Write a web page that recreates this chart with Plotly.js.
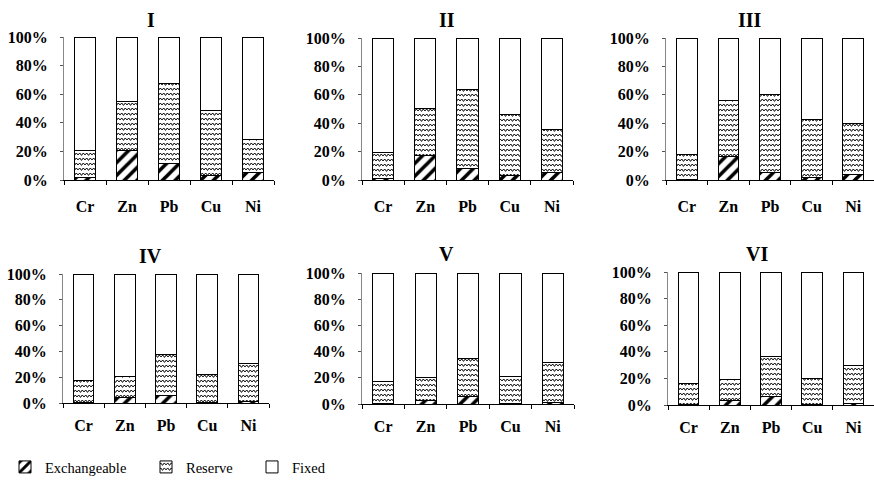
<!DOCTYPE html>
<html>
<head>
<meta charset="utf-8">
<script src="https://cdn.plot.ly/plotly-3.0.1.min.js"></script>
<style>html,body{margin:0;padding:0;background:#fff;font-family:"Liberation Serif",serif;}#chart{width:874px;height:486px;}</style>
</head>
<body>
<div id="chart"></div>
<script>
// ---- data (percent of total) ----
var metals = ["Cr", "Zn", "Pb", "Cu", "Ni"];
var panelNames = ["I", "II", "III", "IV", "V", "VI"];
var seriesNames = ["Exchangeable", "Reserve", "Fixed"];

var exchI   = [1.6, 20.3, 11.2, 3.0, 5.4];
var reserveI = [19.0, 34.8, 56.6, 45.8, 23.1];
var fixedI  = [79.4, 44.9, 32.2, 51.2, 71.5];

var exchII   = [1.0, 17.6, 7.8, 3.0, 5.2];
var reserveII = [18.5, 32.8, 55.7, 43.1, 30.3];
var fixedII  = [80.5, 49.6, 36.5, 53.9, 64.5];

var exchIII   = [0.5, 16.9, 5.6, 1.6, 4.2];
var reserveIII = [17.5, 38.8, 54.6, 41.0, 35.6];
var fixedIII  = [82.0, 44.3, 39.8, 57.4, 60.2];

var exchIV   = [0.5, 3.9, 6.2, 0.5, 1.3];
var reserveIV = [16.6, 16.4, 31.2, 21.5, 29.6];
var fixedIV  = [82.9, 79.7, 62.6, 78.0, 69.1];

var exchV   = [0.5, 2.5, 5.8, 0.5, 1.3];
var reserveV = [16.8, 17.5, 29.2, 20.3, 30.7];
var fixedV  = [82.7, 80.0, 65.0, 79.2, 68.0];

var exchVI   = [0.5, 3.5, 6.2, 0.5, 0.8];
var reserveVI = [16.0, 15.5, 30.0, 19.5, 29.2];
var fixedVI  = [83.5, 81.0, 63.8, 80.0, 70.0];

var yTickVals = [0, 20, 40, 60, 80, 100];
var yTickText = ["0%", "20%", "40%", "60%", "80%", "100%"];

var panels = [
  [exchI, reserveI, fixedI],
  [exchII, reserveII, fixedII],
  [exchIII, reserveIII, fixedIII],
  [exchIV, reserveIV, fixedIV],
  [exchV, reserveV, fixedV],
  [exchVI, reserveVI, fixedVI]
];

// ---- layout geometry (pixels) ----
var W = 874, H = 486;
var boxes = [
  {x0: 64, x1: 274, y0: 37, y1: 180, tx: 151, ty: 20},
  {x0: 362, x1: 573, y0: 38, y1: 180, tx: 447, ty: 20},
  {x0: 666, x1: 874, y0: 38, y1: 180, tx: 750, ty: 20},
  {x0: 63, x1: 269, y0: 274, y1: 403, tx: 150, ty: 256},
  {x0: 362, x1: 574, y0: 273, y1: 404, tx: 447, ty: 254},
  {x0: 668, x1: 874, y0: 272, y1: 405, tx: 757, ty: 254}
];

var serif = "Liberation Serif";
var patterns = [
  {shape: "/", fgcolor: "#000", bgcolor: "#fff", size: 9, solidity: 0.4},
  {shape: "-", fgcolor: "#000", bgcolor: "#fff", size: 5, solidity: 0.2},
  {shape: "", bgcolor: "#fff"}
];
var legendIds = ["legend", "legend2", "legend3"];

var data = [];
var layout = {
  width: W, height: H,
  margin: {l: 0, r: 0, t: 0, b: 0},
  paper_bgcolor: "#fff", plot_bgcolor: "#fff",
  barmode: "stack",
  bargap: 0.5,
  font: {family: serif, color: "#000", size: 16},
  annotations: [],
  showlegend: true
};

panels.forEach(function (p, i) {
  var b = boxes[i];
  var sfx = i === 0 ? "" : String(i + 1);
  p.forEach(function (vals, s) {
    data.push({
      type: "bar",
      x: metals,
      y: vals,
      name: seriesNames[s],
      xaxis: "x" + sfx,
      yaxis: "y" + sfx,
      showlegend: i === 0,
      legend: legendIds[s],
      marker: {color: "#fff", line: {color: "#000", width: 1}, pattern: patterns[s]},
      hoverinfo: "x+y+name"
    });
  });
  layout["xaxis" + sfx] = {
    domain: [b.x0 / W, b.x1 / W],
    anchor: "y" + sfx,
    range: [-0.5, 4.5],
    showline: true, linecolor: "#000", linewidth: 1,
    ticks: "outside", ticklen: 4, tickcolor: "#000", tickson: "boundaries",
    showgrid: false, zeroline: false,
    ticklabelstandoff: i < 3 ? 12 : 8,
    tickfont: {family: serif, size: 16, color: "#000", weight: "bold"},
    fixedrange: true
  };
  layout["yaxis" + sfx] = {
    domain: [1 - b.y1 / H, 1 - b.y0 / H],
    anchor: "x" + sfx,
    range: [0, 100],
    tickvals: yTickVals, ticktext: yTickText,
    showline: true, linecolor: "#888", linewidth: 1,
    ticks: "outside", ticklen: 3, tickcolor: "#555",
    showgrid: false, zeroline: false,
    ticklabelstandoff: 9,
    tickfont: {family: serif, size: 16, color: "#000", weight: "bold"},
    fixedrange: true
  };
  layout.annotations.push({
    text: panelNames[i], xref: "paper", yref: "paper",
    x: b.tx / W, y: 1 - b.ty / H, xanchor: "center", yanchor: "middle",
    showarrow: false,
    font: {family: serif, size: 20, color: "#000", weight: "bold"}
  });
});

var legendX = [5, 146, 252];
legendIds.forEach(function (id, k) {
  layout[id] = {
    x: legendX[k] / W, y: 1 - 467 / H, xanchor: "left", yanchor: "middle",
    orientation: "h", bgcolor: "rgba(0,0,0,0)", borderwidth: 0,
    font: {family: serif, size: 14.5, color: "#000"}
  };
});

function applyWavy(gd) {
  var NS = "http://www.w3.org/2000/svg";
  var svg = gd.querySelector(".main-svg");
  var defs = svg.querySelector("defs");
  if (!defs) { defs = document.createElementNS(NS, "defs"); svg.insertBefore(defs, svg.firstChild); }
  if (!document.getElementById("wavyReserve")) {
    var pat = document.createElementNS(NS, "pattern");
    pat.setAttribute("id", "wavyReserve");
    pat.setAttribute("patternUnits", "userSpaceOnUse");
    pat.setAttribute("width", "7");
    pat.setAttribute("height", "5");
    var bg = document.createElementNS(NS, "rect");
    bg.setAttribute("width", "7"); bg.setAttribute("height", "5"); bg.setAttribute("fill", "#fff");
    pat.appendChild(bg);
    var wv = document.createElementNS(NS, "path");
    wv.setAttribute("d", "M-0.5,3.4 L1.75,1.0 L3.5,3.4 L5.25,1.0 L7.5,3.4");
    wv.setAttribute("fill", "none"); wv.setAttribute("stroke", "#000"); wv.setAttribute("stroke-width", "1");
    pat.appendChild(wv);
    defs.appendChild(pat);
  }
  gd.querySelectorAll(".barlayer .trace").forEach(function (t, idx) {
    if (idx % 3 === 1) {
      t.querySelectorAll("path").forEach(function (p) { p.style.fill = "url(#wavyReserve)"; });
    }
  });
  gd.querySelectorAll(".infolayer g.traces").forEach(function (lt) {
    if (lt.textContent.indexOf("Reserve") >= 0) {
      lt.querySelectorAll("path").forEach(function (p) {
        p.style.fill = "url(#wavyReserve)";
        p.setAttribute("fill", "url(#wavyReserve)");
      });
    }
  });
}

function draw() {
  Plotly.newPlot("chart", data, layout, {displayModeBar: false, staticPlot: true}).then(function (gd) {
    applyWavy(gd);
    setTimeout(function () { applyWavy(gd); }, 50);
  });
}

if (document.fonts && document.fonts.load) {
  Promise.all([
    document.fonts.load('bold 16px "Liberation Serif"'),
    document.fonts.load('14px "Liberation Serif"')
  ]).then(draw, draw);
} else {
  draw();
}
</script>
</body>
</html>
